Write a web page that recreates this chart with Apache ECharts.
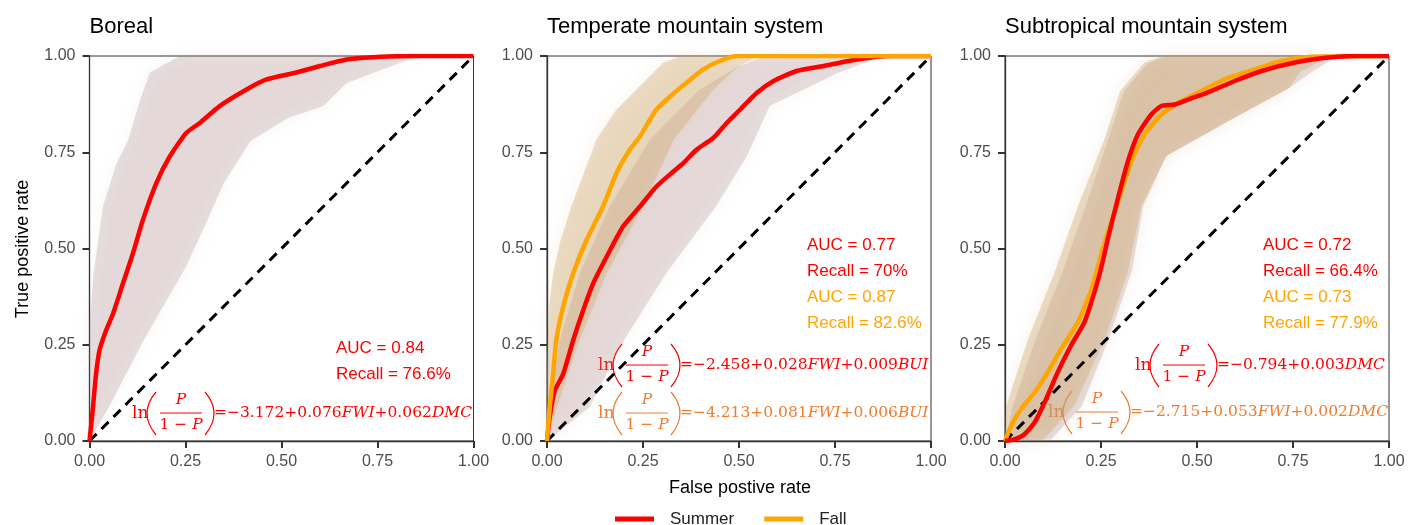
<!DOCTYPE html>
<html>
<head>
<meta charset="utf-8">
<script src="https://cdn.jsdelivr.net/npm/echarts@6/dist/echarts.min.js"></script>
<style>
  html, body { margin: 0; padding: 0; background: #fff; }
  #roc { width: 1409px; height: 525px; }
</style>
</head>
<body>
<div id="roc"></div>
<script>
// panel titles and ticks
const panelTitles = ['Boreal', 'Temperate mountain system', 'Subtropical mountain system'];
const ticks = [0, 0.25, 0.5, 0.75, 1];

// Boreal (summer only)
const borealSummer = [[0,0],[0.009,0.087],[0.017,0.174],[0.026,0.235],[0.043,0.287],[0.061,0.33],[0.087,0.409],[0.113,0.487],[0.139,0.574],[0.174,0.67],[0.209,0.739],[0.252,0.8],[0.287,0.826],[0.339,0.87],[0.409,0.913],[0.461,0.939],[0.539,0.957],[0.6,0.974],[0.67,0.991],[0.757,0.998],[0.843,1],[1,1]];
const borealSummerHi = [[0,0],[0,0.3],[0.01,0.43],[0.035,0.61],[0.07,0.72],[0.1,0.78],[0.13,0.88],[0.157,0.957],[0.235,1],[1,1]];
const borealSummerLo = [[0,0],[0.05,0.087],[0.14,0.26],[0.25,0.45],[0.31,0.58],[0.35,0.67],[0.42,0.78],[0.52,0.84],[0.61,0.87],[0.67,0.93],[0.83,0.99],[0.9,1],[1,1]];

// Temperate mountain system
const temperateSummer = [[0,0],[0.007,0.061],[0.02,0.13],[0.042,0.174],[0.068,0.261],[0.094,0.339],[0.12,0.409],[0.155,0.478],[0.198,0.557],[0.242,0.609],[0.285,0.661],[0.329,0.7],[0.355,0.722],[0.39,0.757],[0.433,0.787],[0.468,0.826],[0.503,0.861],[0.546,0.904],[0.59,0.935],[0.65,0.961],[0.72,0.974],[0.807,0.991],[0.894,1],[1,1]];
const temperateFall = [[0,0],[0.007,0.087],[0.016,0.174],[0.024,0.261],[0.042,0.348],[0.068,0.435],[0.103,0.522],[0.146,0.609],[0.181,0.696],[0.216,0.757],[0.242,0.791],[0.285,0.861],[0.337,0.909],[0.363,0.93],[0.407,0.965],[0.45,0.987],[0.494,1],[1,1]];
const temperateSummerHi = [[0,0],[0.005,0.1],[0.033,0.261],[0.085,0.435],[0.163,0.609],[0.268,0.783],[0.398,0.913],[0.5,0.974],[0.57,1],[1,1]];
const temperateSummerLo = [[0,0],[0.11,0.087],[0.2,0.261],[0.31,0.435],[0.44,0.609],[0.52,0.739],[0.58,0.87],[0.76,0.957],[0.85,0.991],[0.92,1],[1,1]];
const temperateFallHi = [[0,0],[0,0.2],[0.005,0.35],[0.016,0.435],[0.035,0.52],[0.063,0.609],[0.129,0.783],[0.18,0.86],[0.233,0.913],[0.303,0.983],[0.35,1],[1,1]];
const temperateFallLo = [[0,0],[0.03,0.1],[0.08,0.25],[0.155,0.435],[0.25,0.609],[0.33,0.783],[0.433,0.913],[0.5,0.974],[0.55,1],[1,1]];

// Subtropical mountain system
const subtropSummer = [[0,0],[0.024,0.004],[0.05,0.017],[0.077,0.048],[0.103,0.1],[0.137,0.178],[0.172,0.248],[0.207,0.309],[0.233,0.387],[0.25,0.448],[0.268,0.526],[0.294,0.63],[0.32,0.726],[0.346,0.796],[0.381,0.848],[0.407,0.87],[0.442,0.874],[0.477,0.887],[0.537,0.909],[0.598,0.935],[0.668,0.961],[0.755,0.983],[0.842,0.996],[0.911,1],[1,1]];
const subtropFall = [[0,0],[0.016,0.039],[0.042,0.083],[0.077,0.126],[0.111,0.178],[0.146,0.239],[0.19,0.309],[0.226,0.396],[0.25,0.483],[0.277,0.57],[0.303,0.648],[0.329,0.726],[0.363,0.796],[0.407,0.848],[0.459,0.883],[0.511,0.909],[0.581,0.943],[0.65,0.965],[0.72,0.987],[0.798,0.998],[1,1]];
const subtropSummerHi = [[0,0],[0.02,0.09],[0.08,0.265],[0.15,0.44],[0.21,0.61],[0.27,0.787],[0.31,0.909],[0.37,0.98],[0.42,1],[1,1]];
const subtropSummerLo = [[0,0],[0.12,0.004],[0.2,0.09],[0.27,0.265],[0.33,0.44],[0.36,0.61],[0.42,0.74],[0.58,0.83],[0.74,0.917],[0.8,0.96],[0.86,0.996],[0.9,1],[1,1]];
const subtropFallHi = [[0,0],[0.003,0.09],[0.06,0.265],[0.13,0.44],[0.19,0.61],[0.26,0.787],[0.3,0.909],[0.363,0.983],[0.41,1],[1,1]];
const subtropFallLo = [[0,0],[0.1,0.004],[0.18,0.09],[0.26,0.265],[0.32,0.44],[0.355,0.61],[0.42,0.74],[0.58,0.83],[0.74,0.917],[0.77,0.96],[0.84,0.996],[0.88,1],[1,1]];

const diagonal = [[0,0],[1,1]];

const RED = '#ff0000', ORANGE = '#ffa500', EQ_ORANGE = '#ed7d31';
const SUMMER_BAND = 'rgba(165,130,128,0.26)', FALL_BAND = 'rgba(205,165,105,0.36)';
const SANS = 'Liberation Sans', SERIF = 'DejaVu Serif';

var chartDom = document.getElementById('roc');
var myChart = echarts.init(chartDom);

const gridLefts = [89.5, 547, 1005];

function band(idx, hi, lo, color) {
    const pts = hi.concat(lo.slice().reverse());
    return {
        type: 'custom', xAxisIndex: idx, yAxisIndex: idx, silent: true, z: 1,
        data: pts,
        renderItem: function (params, api) {
            if (params.dataIndex !== 0) return null;
            return {
                type: 'polygon',
                shape: { points: pts.map(p => api.coord(p)) },
                style: { fill: color, shadowBlur: 16, shadowColor: color }
            };
        }
    };
}

function curve(idx, name, data, color) {
    return {
        type: 'line', name: name, xAxisIndex: idx, yAxisIndex: idx, data: data,
        showSymbol: false, smooth: 0.2, z: 4, silent: true,
        itemStyle: { color: color },
        lineStyle: { color: color, width: 4.5 }
    };
}

function dashed(idx) {
    return {
        type: 'line', xAxisIndex: idx, yAxisIndex: idx, data: diagonal,
        showSymbol: false, z: 3, silent: true,
        lineStyle: { color: '#000', width: 3, type: [10, 7] }
    };
}

// equation: ln(P / (1 - P)) = rhs
function equation(x, y, rhs, color) {
    const txt = (dx, dy, text, align, italic) => ({
        type: 'text', x: dx, y: dy,
        style: {
            text: text, fill: color, fontFamily: SERIF, fontSize: 15.5,
            fontStyle: italic ? 'italic' : 'normal',
            align: align, verticalAlign: 'middle',
            rich: { i: { fontFamily: SERIF, fontSize: 15.5, fontStyle: 'italic', fill: color } }
        }
    });
    return {
        type: 'group', x: x, y: y, z: 10,
        children: [
            { type: 'text', x: 0, y: 1, style: { text: 'ln', fill: color, fontFamily: SERIF, fontSize: 17, verticalAlign: 'middle' } },
            { type: 'bezierCurve', shape: { x1: 24, y1: -21, cpx1: 6, cpy1: 0, x2: 24, y2: 22 }, style: { stroke: color, lineWidth: 1.2, fill: null } },
            txt(49, -13, 'P', 'center', true),
            { type: 'line', shape: { x1: 28, y1: 0, x2: 70, y2: 0 }, style: { stroke: color, lineWidth: 1 } },
            txt(49, 12, '1 − {i|P}', 'center'),
            { type: 'bezierCurve', shape: { x1: 73, y1: -21, cpx1: 91, cpy1: 0, x2: 73, y2: 22 }, style: { stroke: color, lineWidth: 1.2, fill: null } },
            txt(82, 0, rhs, 'left')
        ]
    };
}

function label(x, y, text, color) {
    return {
        type: 'text', x: x, y: y, z: 10,
        style: { text: text, fill: color, fontFamily: SANS, fontSize: 17, verticalAlign: 'middle' }
    };
}

const grids = gridLefts.map(l => ({ left: l, top: 56, width: 384, height: 385, show: true, borderColor: '#333', borderWidth: 1 }));

const axisCommon = {
    type: 'value', min: 0, max: 1, interval: 0.25,
    splitLine: { show: false },
    axisLine: { show: true, lineStyle: { color: '#333', width: 1.3 } },
    axisTick: { show: true, length: 7, lineStyle: { color: '#333', width: 2 } }
};
const labelStyle = { color: '#4d4d4d', fontFamily: SANS, fontSize: 16, formatter: v => v.toFixed(2) };

var option = {
    animation: false,
    title: panelTitles.map((t, i) => ({
        text: t, left: gridLefts[i], top: 16, padding: 0,
        textStyle: { fontFamily: SANS, fontSize: 22, fontWeight: 'normal', color: '#000' }
    })),
    legend: {
        left: 615, top: 509, padding: 0, itemWidth: 39, itemHeight: 5, icon: 'rect', itemGap: 30,
        data: ['Summer', 'Fall'],
        textStyle: { fontFamily: SANS, fontSize: 17, color: '#222', lineHeight: 20, rich: { pad: { width: 11 } } },
        formatter: name => '{pad|}' + name
    },
    grid: grids,
    xAxis: grids.map((g, i) => Object.assign({ gridIndex: i, axisLabel: Object.assign({ margin: 13 }, labelStyle) }, axisCommon)),
    yAxis: grids.map((g, i) => Object.assign({ gridIndex: i, axisLabel: Object.assign({ margin: 14 }, labelStyle) }, axisCommon)),
    series: [
        band(0, borealSummerHi, borealSummerLo, SUMMER_BAND),
        dashed(0),
        curve(0, 'Summer', borealSummer, RED),

        band(1, temperateSummerHi, temperateSummerLo, SUMMER_BAND),
        band(1, temperateFallHi, temperateFallLo, FALL_BAND),
        dashed(1),
        curve(1, 'Summer', temperateSummer, RED),
        curve(1, 'Fall', temperateFall, ORANGE),

        band(2, subtropSummerHi, subtropSummerLo, SUMMER_BAND),
        band(2, subtropFallHi, subtropFallLo, FALL_BAND),
        dashed(2),
        curve(2, 'Fall', subtropFall, ORANGE),
        curve(2, 'Summer', subtropSummer, RED)
    ],
    graphic: [
        { type: 'text', x: 23, y: 249, rotation: Math.PI / 2, z: 10,
          style: { text: 'True positive rate', fontFamily: SANS, fontSize: 18, fill: '#000', align: 'center', verticalAlign: 'middle' } },
        { type: 'text', x: 740, y: 488, z: 10,
          style: { text: 'False postive rate', fontFamily: SANS, fontSize: 18, fill: '#000', align: 'center', verticalAlign: 'middle' } },

        label(336, 348, 'AUC = 0.84', RED),
        label(336, 374, 'Recall = 76.6%', RED),
        equation(132, 413, '=−3.172+0.076{i|FWI}+0.062{i|DMC}', RED),

        label(807, 245, 'AUC = 0.77', RED),
        label(807, 271, 'Recall = 70%', RED),
        label(807, 297, 'AUC = 0.87', ORANGE),
        label(807, 323, 'Recall = 82.6%', ORANGE),
        equation(598, 365, '=−2.458+0.028{i|FWI}+0.009{i|BUI}', RED),
        equation(598, 413, '=−4.213+0.081{i|FWI}+0.006{i|BUI}', EQ_ORANGE),

        label(1263, 245, 'AUC = 0.72', RED),
        label(1263, 271, 'Recall = 66.4%', RED),
        label(1263, 297, 'AUC = 0.73', ORANGE),
        label(1263, 323, 'Recall = 77.9%', ORANGE),
        equation(1135, 365, '=−0.794+0.003{i|DMC}', RED),
        equation(1048, 412, '=−2.715+0.053{i|FWI}+0.002{i|DMC}', EQ_ORANGE)
    ]
};

option && myChart.setOption(option);
</script>
</body>
</html>
